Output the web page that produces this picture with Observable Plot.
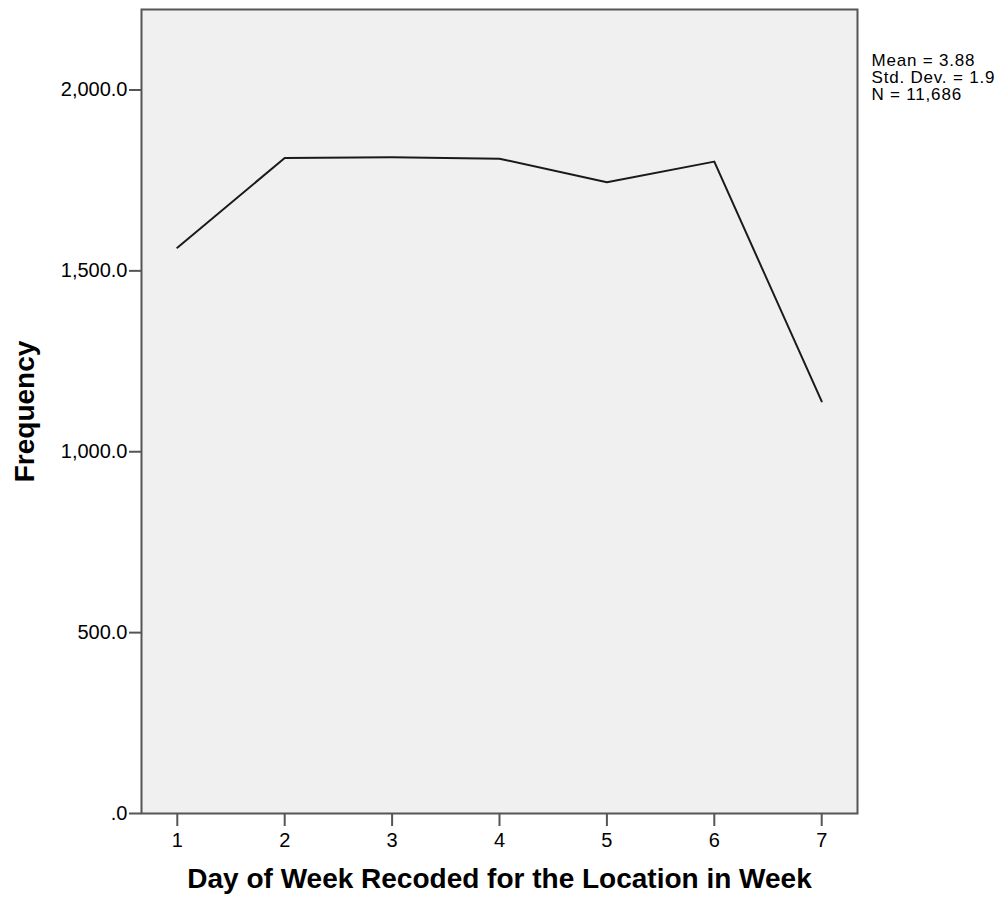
<!DOCTYPE html>
<html>
<head>
<meta charset="utf-8">
<script src="https://cdn.jsdelivr.net/npm/d3@7"></script>
<script src="https://cdn.jsdelivr.net/npm/@observablehq/plot@0.6"></script>
<style>
  html, body { margin: 0; padding: 0; background: #fff; }
</style>
</head>
<body>
<div id="chart"></div>
<script>
// Data
const days = [1, 2, 3, 4, 5, 6, 7];
const frequency = [1564, 1812, 1814, 1810, 1745, 1802, 1139];
const yTicks = [0, 500, 1000, 1500, 2000];
const xTicks = [1, 2, 3, 4, 5, 6, 7];
const xTitle = "Day of Week Recoded for the Location in Week";
const yTitle = "Frequency";
const statsLines = ["Mean = 3.88", "Std. Dev. = 1.9", "N = 11,686"];

const rows = days.map((d, i) => ({day: d, freq: frequency[i]}));
const fmt = d => d === 0 ? ".0" : d3.format(",.1f")(d);
const statsOffsets = [44, 61, 78];

const chart = Plot.plot({
  width: 1008,
  height: 905,
  marginLeft: 141,
  marginRight: 151,
  marginTop: 9,
  marginBottom: 92,
  style: {fontFamily: "'Liberation Sans', Arial, sans-serif", color: "#000", background: "#fff"},
  x: {domain: [2/3, 22/3], label: null},
  y: {domain: [0, 2222.5], label: null},
  marks: [
    Plot.frame({fill: "#f0f0f0", stroke: "none"}),
    Plot.line(rows, {x: "day", y: "freq", stroke: "#1a1a1a", strokeWidth: 2}),
    Plot.frame({stroke: "#555", strokeWidth: 2, fill: "none"}),
    Plot.axisY(yTicks, {tickSize: 12, tickPadding: 2, tickFormat: fmt, fontSize: 20, stroke: "#555", strokeWidth: 2, label: null}),
    Plot.axisX(xTicks, {tickSize: 13, tickPadding: 6, tickFormat: d => String(d), fontSize: 20, stroke: "#555", strokeWidth: 2, label: null}),
    Plot.text([xTitle], {frameAnchor: "bottom", dy: 74, fontSize: 28, fontWeight: "bold", fill: "#000"}),
    Plot.text([yTitle], {frameAnchor: "left", dx: -116, rotate: -90, textAnchor: "middle", lineAnchor: "middle", fontSize: 28, fontWeight: "bold", fill: "#000"}),
    ...statsLines.map((line, i) => Plot.text([line], {frameAnchor: "top-right", dx: 14, dy: statsOffsets[i], textAnchor: "start", lineAnchor: "top", fontSize: 17, fill: "#000"}))
  ]
});
chart.querySelectorAll("text").forEach(t => {
  if (statsLines.includes(t.textContent)) t.style.letterSpacing = "0.8px";
});
document.getElementById("chart").appendChild(chart);
</script>
</body>
</html>
